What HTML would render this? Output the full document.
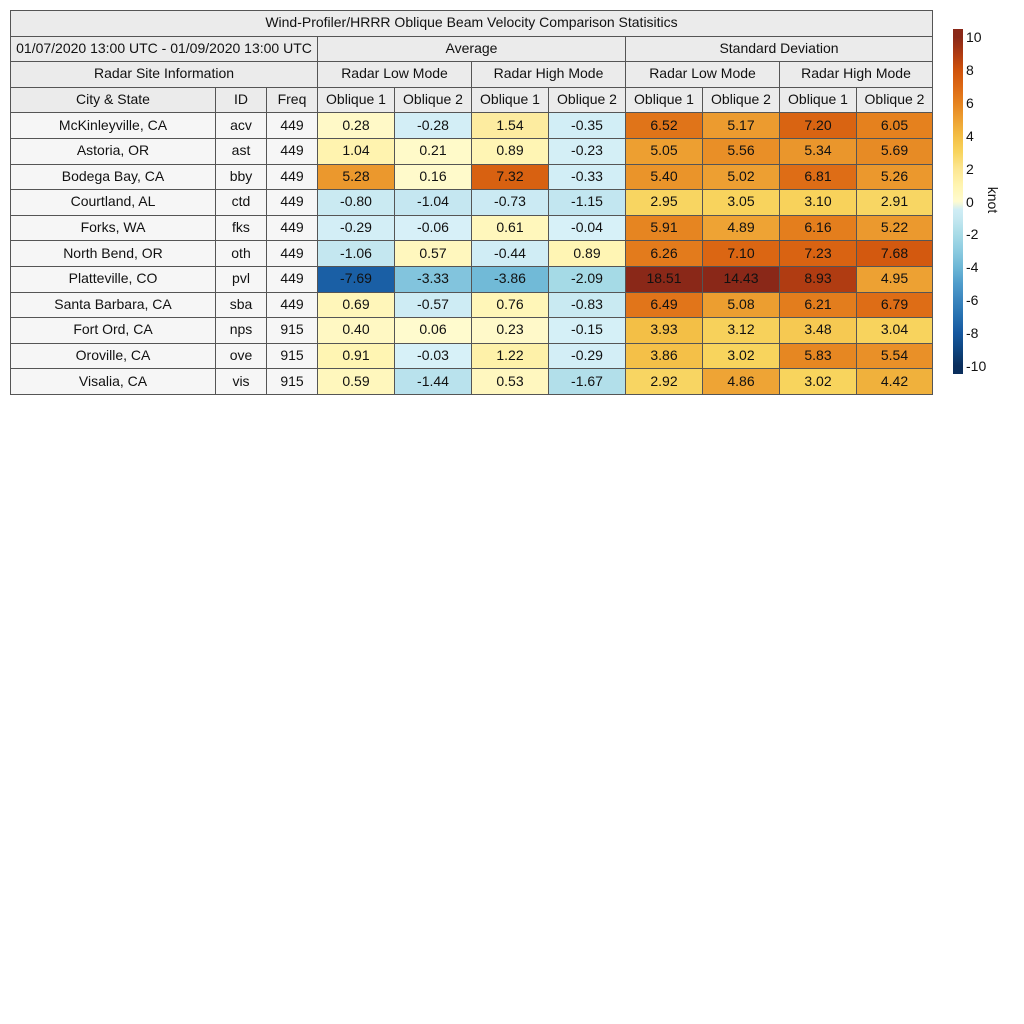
<!DOCTYPE html>
<html><head><meta charset="utf-8"><style>
body{margin:0;width:1024px;height:1024px;background:#fff;font-family:"Liberation Sans",sans-serif;position:relative;overflow:hidden}
.c{position:absolute;box-sizing:border-box;border:1px solid #555;display:flex;align-items:center;justify-content:center;font-size:14px;color:#111;white-space:nowrap;padding-bottom:2px}
.h{background:#ebebeb}
.s{background:#f6f6f6}
.tk{position:absolute;font-size:14px;color:#111}
</style></head><body>
<div id="tbl"></div>
<div id="cb" style="position:absolute;left:953px;top:29px;width:10px;height:345px"></div>
<div class="tk" style="left:980px;top:192px;transform:rotate(90deg);transform-origin:center">knot</div>
<script>
const cities=["McKinleyville, CA","Astoria, OR","Bodega Bay, CA","Courtland, AL","Forks, WA","North Bend, OR","Platteville, CO","Santa Barbara, CA","Fort Ord, CA","Oroville, CA","Visalia, CA"];
const ids=["acv","ast","bby","ctd","fks","oth","pvl","sba","nps","ove","vis"];
const freqs=["449","449","449","449","449","449","449","449","915","915","915"];
const avgLow1=[0.28,1.04,5.28,-0.80,-0.29,-1.06,-7.69,0.69,0.40,0.91,0.59];
const avgLow2=[-0.28,0.21,0.16,-1.04,-0.06,0.57,-3.33,-0.57,0.06,-0.03,-1.44];
const avgHigh1=[1.54,0.89,7.32,-0.73,0.61,-0.44,-3.86,0.76,0.23,1.22,0.53];
const avgHigh2=[-0.35,-0.23,-0.33,-1.15,-0.04,0.89,-2.09,-0.83,-0.15,-0.29,-1.67];
const sdLow1=[6.52,5.05,5.40,2.95,5.91,6.26,18.51,6.49,3.93,3.86,2.92];
const sdLow2=[5.17,5.56,5.02,3.05,4.89,7.10,14.43,5.08,3.12,3.02,4.86];
const sdHigh1=[7.20,5.34,6.81,3.10,6.16,7.23,8.93,6.21,3.48,5.83,3.02];
const sdHigh2=[6.05,5.69,5.26,2.91,5.22,7.68,4.95,6.79,3.04,5.54,4.42];
const cbTicks=[10,8,6,4,2,0,-2,-4,-6,-8,-10];
const pos=["#fffbd0","#fff4b0","#fce692","#f8d45e","#f3bd44","#eda032","#e5821f","#dc6814","#cf520c","#ae3a12","#8a2818"];
const neg=["#d8f1f8","#c6e8f1","#a8dbe7","#8ccbe0","#6db7d6","#4f9ccb","#3a85be","#2670b0","#1558a0","#0e4580","#0a2e5c"];
function hx(h){return [1,3,5].map(i=>parseInt(h.substr(i,2),16));}
function color(v){let a=Math.min(Math.abs(v),10);const st=v>=0?pos:neg;const i=Math.min(Math.floor(a),9),f=a-i;const c0=hx(st[i]),c1=hx(st[i+1]);return "rgb("+c0.map((c,k)=>Math.round(c+(c1[k]-c)*f)).join(",")+")";}
const X=[10,215,266,317,394,471,548,625,702,779,856,932];
const Y0=10,RH=25.6;
const tbl=document.getElementById('tbl');
function cell(c0,c1,r,txt,cls,bg,name){const d=document.createElement('div');d.className='c '+(cls||'');d.style.left=X[c0]+'px';d.style.width=(X[c1]-X[c0]+1)+'px';d.style.top=(Y0+r*RH)+'px';d.style.height=(RH+1)+'px';if(bg)d.style.background=bg;d.textContent=txt;


tbl.appendChild(d);}
cell(0,11,0,"Wind-Profiler/HRRR Oblique Beam Velocity Comparison Statisitics","h",null,"table-title");
cell(0,3,1,"01/07/2020 13:00 UTC - 01/09/2020 13:00 UTC","h",null,"date-range");
cell(3,7,1,"Average","h",null,"average-header");
cell(7,11,1,"Standard Deviation","h",null,"std-dev-header");
cell(0,3,2,"Radar Site Information","h",null,"site-info-header");
["Radar Low Mode","Radar High Mode","Radar Low Mode","Radar High Mode"].forEach((t,i)=>cell(3+2*i,5+2*i,2,t,"h",null,"mode-header"));
cell(0,1,3,"City & State","h",null,"city-header");cell(1,2,3,"ID","h",null,"id-header");cell(2,3,3,"Freq","h",null,"freq-header");
for(let i=0;i<8;i++)cell(3+i,4+i,3,"Oblique "+(i%2+1),"h",null,"oblique-header");
const series=[avgLow1,avgLow2,avgHigh1,avgHigh2,sdLow1,sdLow2,sdHigh1,sdHigh2];
cities.forEach((c,r)=>{cell(0,1,4+r,c,"s",null,"city-cell");cell(1,2,4+r,ids[r],"s",null,"id-cell");cell(2,3,4+r,freqs[r],"s",null,"freq-cell");
series.forEach((s,k)=>cell(3+k,4+k,4+r,s[r].toFixed(2),"",color(s[r]),"value-cell"));});
const cb=document.getElementById('cb');
let g=[];for(let v=10.5;v>=-10.5;v-=0.5)g.push(color(v)+" "+((10.5-v)/21*100).toFixed(2)+"%");
cb.style.background="linear-gradient(to bottom,"+g.join(",")+")";
cbTicks.forEach(t=>{const d=document.createElement('div');d.className='tk';d.style.left='966px';d.style.top=(29+(10.5-t)/21*345-8)+'px';d.textContent=t;


document.body.appendChild(d);});
</script>
</body></html>
